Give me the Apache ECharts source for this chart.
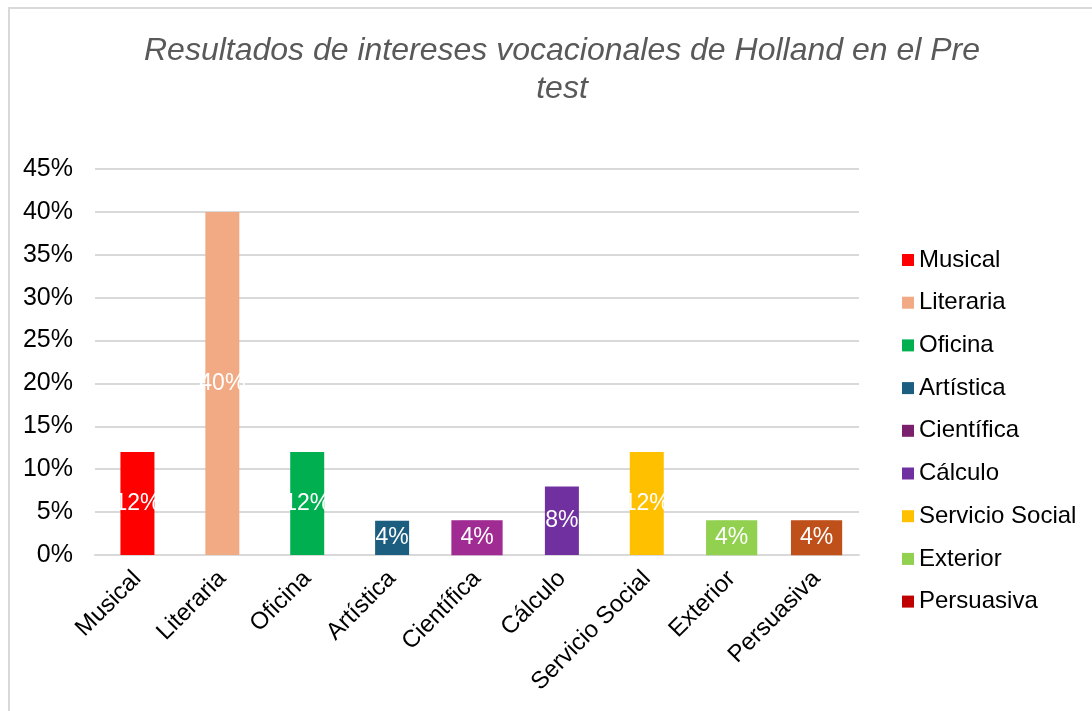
<!DOCTYPE html>
<html>
<head>
<meta charset="utf-8">
<script src="https://cdn.jsdelivr.net/npm/echarts@6/dist/echarts.min.js"></script>
<style>
  html, body { margin: 0; padding: 0; background: #fff; }
  #frame { position: absolute; left: 8px; top: 7px; width: 1100px; height: 720px; border: 2px solid #d9d9d9; box-sizing: border-box; }
  #chart { position: absolute; left: 0; top: 0; width: 1092px; height: 711px; }
</style>
</head>
<body>
<div id="frame"></div>
<div id="chart"></div>
<script>
const categories = ['Musical', 'Literaria', 'Oficina', 'Artística', 'Científica', 'Cálculo', 'Servicio Social', 'Exterior', 'Persuasiva']
const values     = [12, 40, 12, 4, 4, 8, 12, 4, 4]
const barColors  = ['#ff0000', '#f2aa84', '#00b050', '#1b5e80', '#a02b93', '#7030a0', '#ffc000', '#92d050', '#c0501a']
const keyColors  = ['#ff0000', '#f2aa84', '#00b050', '#1b5e80', '#7a206c', '#7030a0', '#ffc000', '#92d050', '#c00000']
const labelBoxed = [false, false, false, false, true, false, false, true, true]

const font = 'Liberation Sans, Arial, sans-serif'
const chart = echarts.init(document.getElementById('chart'), null, { renderer: 'canvas' })

const series = categories.map((name, i) => ({
  name, type: 'bar',
  barWidth: 34, barGap: '-100%',
  itemStyle: { color: keyColors[i] },
  data: categories.map((_, j) => j === i ? {
    value: values[i],
    itemStyle: { color: barColors[i] }
  } : '-'),
  label: {
    show: true, position: 'inside',
    color: '#fff', fontFamily: font, fontSize: 23,
    formatter: p => p.value + '%',
    backgroundColor: labelBoxed[i] ? barColors[i] : 'transparent',
    padding: labelBoxed[i] ? [6, 9, 6, 9] : 0
  },
  animation: false
}))

chart.setOption({
  backgroundColor: 'transparent',
  animation: false,
  title: {
    text: 'Resultados de intereses vocacionales de Holland en el Pre\ntest',
    left: 557, top: 27, textAlign: 'center',
    textStyle: { fontFamily: font, fontStyle: 'italic', fontWeight: 'normal', fontSize: 32, color: '#595959', lineHeight: 38 }
  },
  grid: { left: 95, top: 169, width: 764, height: 386, containLabel: false },
  legend: {
    orient: 'vertical', left: 902, top: 248, padding: 0,
    itemWidth: 12, itemHeight: 12, itemGap: 18.7,
    icon: 'rect',
    data: categories,
    textStyle: { fontFamily: font, fontSize: 24, color: '#000' }
  },
  xAxis: {
    type: 'category', data: categories,
    axisLine: { lineStyle: { color: '#d9d9d9', width: 2 } },
    axisTick: { show: false },
    axisLabel: { rotate: 45, interval: 0, margin: 20, fontFamily: font, fontSize: 24, color: '#000' }
  },
  yAxis: {
    type: 'value', min: 0, max: 45, interval: 5,
    axisLine: { show: false },
    axisTick: { show: false },
    axisLabel: { formatter: '{value}%', margin: 22, fontFamily: font, fontSize: 25, color: '#000' },
    splitLine: { lineStyle: { color: '#d9d9d9', width: 2 } }
  },
  series
})
</script>
</body>
</html>
